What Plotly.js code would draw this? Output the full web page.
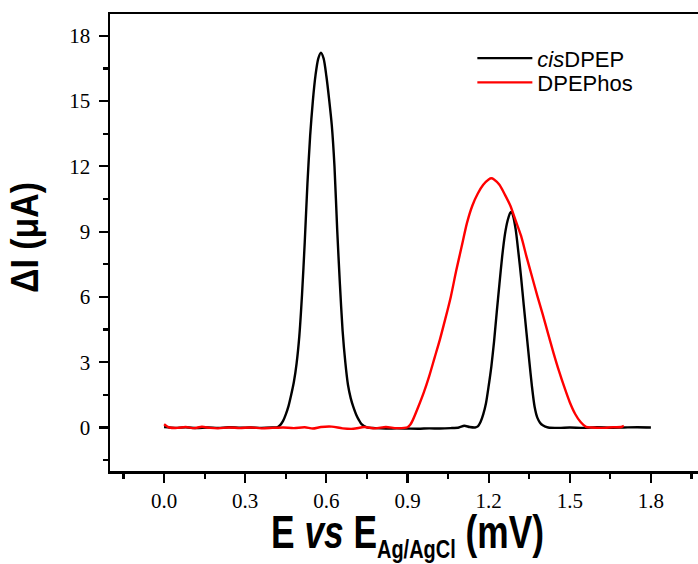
<!DOCTYPE html>
<html>
<head>
<meta charset="utf-8">
<script src="https://cdn.plot.ly/plotly-3.0.1.min.js"></script>
<style>
html, body { margin: 0; padding: 0; overflow: hidden; background: #fff; }
#chart { width: 712px; height: 564px; }
</style>
</head>
<body>
<div id="chart"></div>
<script>
// cisDPEP (black) potential (V) and current (µA)
const cisX = [0.00, 0.04, 0.08, 0.12, 0.16, 0.20, 0.24, 0.28, 0.32, 0.36, 0.40, 0.42, 0.43, 0.44, 0.45, 0.46, 0.47, 0.48, 0.49, 0.50,
  0.51, 0.52, 0.53, 0.54, 0.55, 0.56, 0.57, 0.58, 0.59, 0.60, 0.61, 0.62, 0.63, 0.64, 0.65, 0.66, 0.67, 0.68, 0.69, 0.70,
  0.71, 0.72, 0.73, 0.75, 0.78, 0.82, 0.86, 0.90, 0.94, 0.98, 1.02, 1.06, 1.09, 1.11, 1.13, 1.15, 1.16, 1.17, 1.18, 1.19,
  1.20, 1.21, 1.22, 1.23, 1.24, 1.25, 1.26, 1.27, 1.28, 1.285, 1.29, 1.30, 1.31, 1.32, 1.33, 1.34, 1.35, 1.36, 1.37, 1.38,
  1.39, 1.40, 1.42, 1.46, 1.50, 1.55, 1.60, 1.65, 1.70, 1.75, 1.80];
const cisY = [0.02, -0.02, 0.01, -0.03, 0.00, -0.02, 0.01, -0.01, 0.00, -0.02, 0.00, 0.02, 0.12, 0.30, 0.60, 0.98, 1.50, 2.10, 2.95, 4.20,
  6.10, 8.50, 11.2, 13.4, 15.0, 16.2, 16.95, 17.22, 16.95, 16.15, 15.1, 13.9, 12.0, 9.1, 6.6, 4.45, 3.0, 1.95, 1.35, 0.93,
  0.60, 0.35, 0.15, 0.00, -0.03, -0.05, -0.04, -0.05, -0.06, -0.04, -0.05, -0.03, 0.00, 0.08, 0.02, 0.00, 0.05, 0.25, 0.60, 1.10,
  1.90, 2.80, 3.95, 5.30, 6.60, 7.85, 8.85, 9.50, 9.87, 9.90, 9.75, 9.10, 8.05, 6.90, 5.60, 4.35, 3.10, 1.90, 0.95, 0.45,
  0.22, 0.10, 0.00, -0.02, 0.00, -0.02, 0.01, -0.01, 0.00, 0.01, 0.00];

// DPEPhos (red) potential (V) and current (µA)
const phosX = [0.00, 0.01, 0.02, 0.05, 0.08, 0.11, 0.14, 0.17, 0.20, 0.24, 0.28, 0.32, 0.36, 0.40, 0.44, 0.48, 0.52, 0.55, 0.58, 0.62,
  0.66, 0.70, 0.74, 0.78, 0.82, 0.86, 0.90, 0.91, 0.92, 0.94, 0.96, 0.98, 1.00, 1.02, 1.04, 1.06, 1.08, 1.10, 1.12, 1.14,
  1.16, 1.18, 1.20, 1.21, 1.22, 1.24, 1.26, 1.28, 1.30, 1.32, 1.34, 1.36, 1.38, 1.40, 1.42, 1.44, 1.46, 1.48, 1.50, 1.52,
  1.54, 1.56, 1.58, 1.62, 1.66, 1.69, 1.70];
const phosY = [0.15, 0.06, 0.00, -0.02, 0.02, -0.03, 0.03, -0.02, -0.04, 0.00, -0.03, 0.00, -0.04, -0.02, 0.00, -0.03, 0.01, -0.05, 0.02, 0.04,
  -0.04, -0.06, 0.02, -0.04, 0.02, -0.03, 0.01, 0.12, 0.35, 0.95, 1.60, 2.35, 3.20, 4.05, 5.00, 6.00, 7.20, 8.30, 9.40, 10.2,
  10.75, 11.15, 11.40, 11.45, 11.40, 11.15, 10.70, 10.20, 9.50, 8.80, 7.85, 6.95, 6.05, 5.20, 4.30, 3.42, 2.60, 1.85, 1.16, 0.62,
  0.25, 0.03, 0.00, -0.02, 0.01, 0.02, 0.08];

const seriesNames = ['<i>cis</i>DPEP', 'DPEPhos'];
const xTickVals = [0.0, 0.3, 0.6, 0.9, 1.2, 1.5, 1.8];
const yTickVals = [0, 3, 6, 9, 12, 15, 18];

const traces = [
  { x: cisX, y: cisY, name: seriesNames[0], type: 'scatter', mode: 'lines', legend: 'legend',
    line: { color: '#000000', width: 2.4, shape: 'spline', smoothing: 0.7 } },
  { x: phosX, y: phosY, name: seriesNames[1], type: 'scatter', mode: 'lines', legend: 'legend2',
    line: { color: '#ff0000', width: 2.4, shape: 'spline', smoothing: 0.7 } }
];

const tickFont = { family: 'Liberation Serif, Times New Roman, serif', size: 21, color: '#000' };
const titleFamily = 'Liberation Sans, Arial, sans-serif';
const legendFont = { family: 'Liberation Sans, Arial, sans-serif', size: 22, color: '#000' };

const layout = {
  width: 712, height: 564,
  margin: { l: 110, r: 7, t: 14, b: 93, pad: 0 },
  paper_bgcolor: '#fff', plot_bgcolor: '#fff',
  showlegend: true,
  legend: {
    x: 0.609, y: 0.949, xanchor: 'left', yanchor: 'top',
    font: legendFont, bgcolor: 'rgba(0,0,0,0)', borderwidth: 0, itemwidth: 55
  },
  legend2: {
    x: 0.609, y: 0.896, xanchor: 'left', yanchor: 'top',
    font: legendFont, bgcolor: 'rgba(0,0,0,0)', borderwidth: 0, itemwidth: 55
  },
  xaxis: {
    range: [-0.2, 2.0], tickvals: xTickVals, ticktext: xTickVals.map(v => v.toFixed(1)),
    showline: true, linecolor: '#000', linewidth: 2.5, mirror: true,
    ticks: 'outside', ticklen: 9, tickwidth: 2.2, tickcolor: '#000',
    minor: { dtick: 0.15, tick0: 0, ticks: 'outside', ticklen: 5, tickwidth: 2.2, tickcolor: '#000', showgrid: false },
    showgrid: false, zeroline: false, tickfont: tickFont, automargin: false,
    title: { text: '<b>E <i>vs</i> E<sub><span style="font-size:26px">Ag/AgCl</span></sub> (mV)</b>',
             font: { family: titleFamily, size: 46, color: '#000' }, standoff: 5 }
  },
  yaxis: {
    range: [-2, 19], tickvals: yTickVals, ticklabelstandoff: 4,
    showline: true, linecolor: '#000', linewidth: 2.5, mirror: true,
    ticks: 'outside', ticklen: 9, tickwidth: 2.2, tickcolor: '#000',
    minor: { dtick: 1.5, tick0: 0, ticks: 'outside', ticklen: 5, tickwidth: 2.2, tickcolor: '#000', showgrid: false },
    showgrid: false, zeroline: false, tickfont: tickFont, automargin: false,
    title: { text: '<b>ΔI (μA)</b>', font: { family: titleFamily, size: 38, color: '#000' }, standoff: 19 }
  }
};

// condense the bold axis titles horizontally, as in the original figure
function squeeze(gd, sel, targetLen, shift) {
  const t = gd.querySelector(sel);
  if (!t) return;
  const x = parseFloat(t.getAttribute('x')) || 0;
  const y = parseFloat(t.getAttribute('y')) || 0;
  const len = t.getBBox().width;
  if (!len) return;
  const s = targetLen / len;
  const prev = t.getAttribute('transform') || '';
  t.setAttribute('transform', prev + ' translate(' + (x + (shift || 0)) + ',' + y + ') scale(' + s + ',1) translate(' + (-x) + ',' + (-y) + ')');
}

Plotly.newPlot('chart', traces, layout, { displayModeBar: false, staticPlot: true }).then(function (gd) {
  squeeze(gd, 'text.xtitle', 273, 0);
  squeeze(gd, 'text.ytitle', 111, 5);
});
</script>
</body>
</html>
